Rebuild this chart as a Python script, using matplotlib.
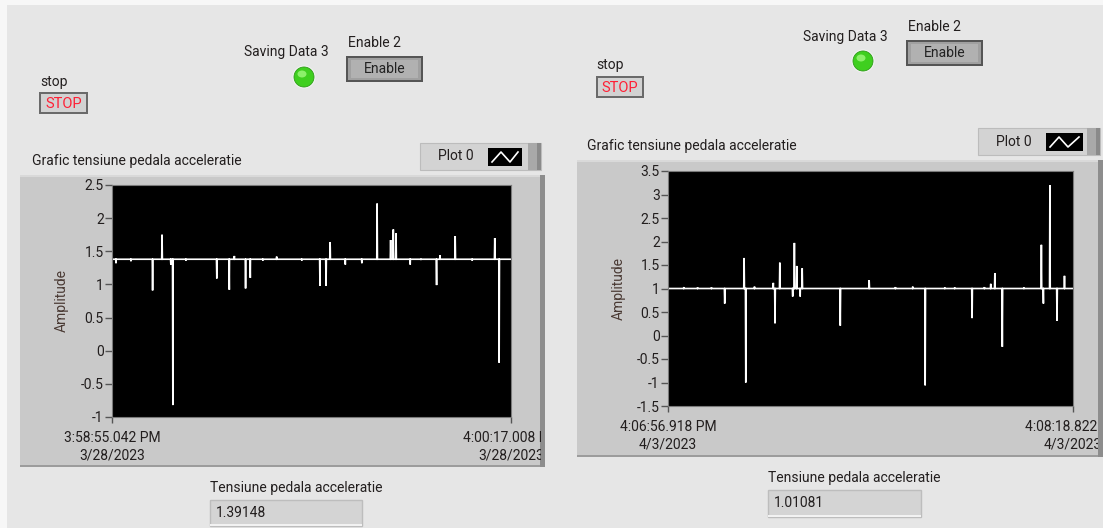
import matplotlib
matplotlib.use("Agg")
from matplotlib import pyplot as plt
from matplotlib.patches import Rectangle, Ellipse
from matplotlib.lines import Line2D
from matplotlib.transforms import Bbox, TransformedBbox

W, H = 1103, 528

# chart 1 (3/28/2023)
left_span = 81.966  # 3:58:55.042 PM -> 4:00:17.008 PM, seconds
left_base = 1.38
left_spike_t = [0.83, 3.9, 8.34, 10.28, 12.09, 12.50, 15.2, 21.53, 24.10, 25.14, 27.44, 28.41,
                31.0, 33.83, 39.0, 42.72, 43.97, 44.80, 47.93, 51.33, 54.46, 57.24, 57.79,
                58.35, 61.26, 63.5, 66.68, 67.38, 70.50, 74.0, 78.63, 79.53]
left_spike_v = [1.32, 1.35, 0.91, 1.75, 1.30, -0.82, 1.36, 1.09, 0.92, 1.43, 0.94, 1.10,
                1.36, 1.42, 1.36, 0.98, 0.98, 1.64, 1.30, 1.32, 2.22, 1.67, 1.83,
                1.77, 1.30, 1.37, 0.99, 1.44, 1.73, 1.36, 1.70, -0.18]
left_spike_mid = [1.38, 1.38, 1.15, 1.55, 1.38, 0.28, 1.38, 1.38, 1.38, 1.38, 1.15, 1.38,
                  1.38, 1.38, 1.38, 1.38, 1.20, 1.55, 1.38, 1.38, 1.82, 1.50, 1.60,
                  1.58, 1.38, 1.38, 1.38, 1.38, 1.55, 1.38, 1.55, 0.60]
left_labels = ["3:58:55.042 PM\n3/28/2023", "4:00:17.008 PM\n3/28/2023"]
left_value = "1.39148"

# chart 2 (4/3/2023)
right_span = 81.904  # 4:06:56.918 PM -> 4:08:18.822 PM, seconds
right_base = 1.0
right_spike_t = [3.2, 6.0, 8.8, 11.47, 15.39, 15.73, 17.5, 21.30, 21.64, 22.61, 25.22, 25.56,
                 26.04, 26.73, 27.14, 34.84, 40.68, 46.0, 49.5, 52.01, 56.0, 58.0, 61.49,
                 64.0, 65.27, 66.10, 67.61, 72.0, 75.51, 75.92, 77.23, 78.67, 80.18]
right_spike_v = [1.03, 1.02, 1.02, 0.68, 1.65, -1.00, 1.04, 1.12, 0.26, 1.55, 0.83, 1.97,
                 1.48, 0.83, 1.43, 0.21, 1.18, 1.03, 1.04, -1.06, 1.02, 1.02, 0.37,
                 1.03, 1.10, 1.33, -0.24, 1.02, 1.93, 0.68, 3.20, 0.31, 1.27]
right_spike_mid = [1.0, 1.0, 1.0, 0.85, 1.30, 0.00, 1.0, 1.0, 0.55, 1.25, 1.0, 1.50,
                   1.0, 1.0, 1.20, 0.60, 1.05, 1.0, 1.0, 0.00, 1.0, 1.0, 0.60,
                   1.0, 1.0, 1.15, 0.35, 1.0, 1.45, 1.0, 2.10, 0.67, 1.10]
right_labels = ["4:06:56.918 PM\n4/3/2023", "4:08:18.822 PM\n4/3/2023"]
right_value = "1.01081"

FONT = "Roboto"
FS = 10
TXT = "#221e1e"
plt.rcParams["font.family"] = [FONT, "DejaVu Sans"]

fig = plt.figure(figsize=(W / 100, H / 100), dpi=100)
fig.patch.set_facecolor("#f7f7f7")


def rect(x0, y0, x1, y1, **kw):
    kw.setdefault("zorder", -1)
    r = Rectangle((x0 / W, 1 - y1 / H), (x1 - x0) / W, (y1 - y0) / H, transform=fig.transFigure, **kw)
    fig.patches.append(r)
    return r


def text(x, y, s, **kw):
    kw.setdefault("fontsize", FS)
    kw.setdefault("color", TXT)
    kw.setdefault("va", "center")
    return fig.text(x / W, 1 - y / H, s, **kw)


def line(xs, ys, **kw):
    fig.lines.append(Line2D([x / W for x in xs], [1 - y / H for y in ys], transform=fig.transFigure, **kw))


def trace(base, span, ts, vs, ms, d=0.07):
    xs, ys = [0.0], [base]
    for t, v, m in zip(ts, vs, ms):
        xs += [t - d, t, t + d / 2, t + d]
        ys += [base, v, m, base]
    xs.append(span)
    ys.append(base)
    return xs, ys


# panel background
rect(7, 5, W, H, facecolor="#e6e6e6", edgecolor="none", zorder=-5)


def button(x0, y0, x1, y1, label, color, dark):
    if dark:
        rect(x0, y0, x1, y1, facecolor="#555555", edgecolor="none")
        rect(x0 + 2, y0 + 2, x1 - 2, y1 - 2, facecolor="#a0a0a0", edgecolor="none")
        rect(x0 + 5, y0 + 4, x1 - 5, y1 - 4, facecolor="#b1b1b1", edgecolor="none")
        text((x0 + x1) / 2, (y0 + y1) / 2, label, color=color, ha="center", fontsize=FS)
    else:
        rect(x0, y0, x1, y1, facecolor="#6a6a6a", edgecolor="none")
        rect(x0 + 2, y0 + 2, x1 - 2, y1 - 2, facecolor="#d2d2d2", edgecolor="none")
        text((x0 + x1) / 2, (y0 + y1) / 2 + 1, label, color=color, ha="center", fontsize=10.5)


def led(cx, cy, r=10):
    fig.patches.append(Ellipse((cx / W, 1 - cy / H), 2 * (r + 1.5) / W, 2 * (r + 1.5) / H,
                               transform=fig.transFigure, facecolor="#f4f4f4", edgecolor="none"))
    fig.patches.append(Ellipse((cx / W, 1 - cy / H), 2 * r / W, 2 * r / H,
                               transform=fig.transFigure, facecolor="#3fcf1f", edgecolor="#2f9a1a", lw=0.6))
    fig.patches.append(Ellipse(((cx - 2) / W, 1 - (cy - 3) / H), 9 / W, 7 / H,
                               transform=fig.transFigure, facecolor="#8cf06a", edgecolor="none"))


def legend_box(x0, y0, x1, y1, sx0, sx1):
    rect(x0, y0, x1, y1, facecolor="#d3d3d3", edgecolor="#bcbcbc", lw=0.8)
    rect(x1 - 13, y0, x1, y1, facecolor="#a9a9a9", edgecolor="none")
    rect(x1 - 4, y0, x1, y1, facecolor="#8a8a8a", edgecolor="none")
    text(x0 + 18, (y0 + y1) / 2, "Plot 0")
    sy0, sy1 = y0 + 5, y1 - 4
    rect(sx0, sy0, sx1, sy1, facecolor="black", edgecolor="none")
    wx = [sx0 + 4, sx0 + 13, sx0 + 22, sx1 - 4]
    wy = [sy1 - 4, sy0 + 4, sy1 - 4, sy0 + 4]
    line(wx, wy, color="white", lw=1.2)


def chart(frame, box, span, base, ts, vs, ms, ylim, yticks, labels, clip_right):
    fx0, fy0, fx1, fy1 = frame
    rect(fx0, fy0, fx1, fy1, facecolor="#c9c9c9", edgecolor="none")
    rect(fx0, fy0, fx1, fy0 + 2, facecolor="#d9d9d9", edgecolor="none")
    rect(fx0, fy1 - 2, fx1, fy1, facecolor="#9c9c9c", edgecolor="none")
    rect(fx1 - 5, fy0, fx1, fy1, facecolor="#8d8d8d", edgecolor="none")
    x0, y0, x1, y1 = box
    ax = fig.add_axes([x0 / W, 1 - y1 / H, (x1 - x0) / W, (y1 - y0) / H])
    ax.set_facecolor("black")
    xs, ys = trace(base, span, ts, vs, ms)
    ax.plot(xs, ys, color="white", lw=1.2, solid_joinstyle="miter")
    ax.set_xlim(0, span)
    ax.set_ylim(*ylim)
    ax.set_yticks(yticks)
    ax.set_yticklabels([f"{v:g}" for v in yticks])
    ax.set_xticks([0, span])
    ax.set_xticklabels(labels, linespacing=1.3)
    ax.tick_params(axis="y", direction="out", length=5, width=1, color="#555555",
                   labelsize=FS, labelcolor=TXT, pad=1)
    ax.tick_params(axis="x", direction="out", length=4, width=1, color="#555555",
                   labelsize=FS, labelcolor=TXT, pad=6)
    for s in ax.spines.values():
        s.set_color("#7a7a7a")
        s.set_linewidth(0.8)
    ax.set_ylabel("Amplitude", fontsize=FS, color="#4a3a34")
    ax.yaxis.set_label_coords((frame[0] + 49 - x0) / (x1 - x0), 0.5)
    clip = TransformedBbox(Bbox.from_extents(fx0 / W, 1 - fy1 / H, clip_right / W, 1 - fy0 / H), fig.transFigure)
    for lbl in ax.get_xticklabels():
        lbl.set_clip_on(True)
        lbl.set_clip_box(clip)
    return ax


# left half
text(40, 82, "stop")
button(39, 92, 88, 114, "STOP", "#ff1f35", False)
text(286, 52, "Saving Data 3", ha="center")
led(304, 77)
text(348, 43, "Enable 2")
button(346, 56, 423, 82, "Enable", "#222222", True)
text(32, 161, "Grafic tensiune pedala acceleratie")
legend_box(420, 143, 541, 170, 488, 522)
chart((20, 175, 545, 467), (112, 185, 511, 417), left_span, left_base,
      left_spike_t, left_spike_v, left_spike_mid, (-1, 2.5),
      [2.5, 2, 1.5, 1, 0.5, 0, -0.5, -1], left_labels, 541)
text(210, 488, "Tensiune pedala acceleratie")
rect(210, 500, 362, 526, facecolor="#d4d4d4", edgecolor="#bdbdbd", lw=1)
rect(210, 524, 362, 526, facecolor="#f2f2f2", edgecolor="none")
text(216, 513, left_value)

# right half
text(596, 65, "stop")
button(596, 76, 644, 98, "STOP", "#ff1f35", False)
text(845, 37, "Saving Data 3", ha="center")
led(863, 61)
text(908, 27, "Enable 2")
button(906, 40, 983, 66, "Enable", "#222222", True)
text(587, 146, "Grafic tensiune pedala acceleratie")
legend_box(978, 128, 1100, 155, 1046, 1083)
chart((577, 160, 1103, 457), (668, 171, 1073, 406), right_span, right_base,
      right_spike_t, right_spike_v, right_spike_mid, (-1.5, 3.5),
      [3.5, 3, 2.5, 2, 1.5, 1, 0.5, 0, -0.5, -1, -1.5], right_labels, 1098)
text(768, 478, "Tensiune pedala acceleratie")
rect(768, 490, 921, 517, facecolor="#d4d4d4", edgecolor="#bdbdbd", lw=1)
rect(768, 515, 921, 517, facecolor="#f2f2f2", edgecolor="none")
text(774, 503, right_value)

fig.savefig("out.png", dpi=100, facecolor=fig.get_facecolor())
